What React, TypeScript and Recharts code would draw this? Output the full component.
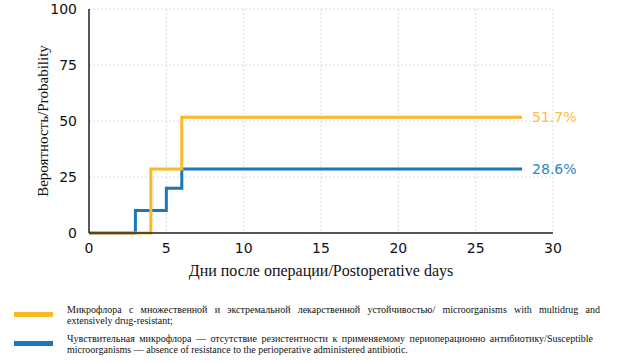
import { CartesianGrid, Line, LineChart, XAxis, YAxis, LabelList } from "recharts"

// days after surgery where the step curves change
const days = [0, 3, 4, 5, 6, 28]
// cumulative probability, %
const resistant = [0, 0, 28.6, 28.6, 51.7, 51.7]
const susceptible = [0, 10, 10, 20, 28.6, 28.6]

const xTicks = [0, 5, 10, 15, 20, 25, 30]
const yTicks = [0, 25, 50, 75, 100]

const legendResistant = [
  "Микрофлора с множественной и экстремальной лекарственной устойчивостью/ microorganisms with multidrug and",
  "extensively drug-resistant;",
]
const legendSusceptible = [
  "Чувствительная микрофлора — отсутствие резистентности к применяемому периоперационно антибиотику/Susceptible",
  "microorganisms — absence of resistance to the perioperative administered antibiotic.",
]

const ORANGE = "#FBB829"
const BLUE = "#1B77BC"

const data = days.map((d, i) => ({ d, r: resistant[i], s: susceptible[i] }))

const tickFont = { fontFamily: "DejaVu Sans", fontSize: 14, fill: "#111" }
const serif = "Liberation Serif, Times New Roman, serif"

function endLabel(color: string) {
  return (p: any) => {
    if (p.index !== data.length - 1) return null
    return (
      <text x={p.x + 10} y={p.y} dy={5} fill={color} fontFamily="DejaVu Sans" fontSize={14}>
        {Number(p.value).toFixed(1)}%
      </text>
    )
  }
}

function LegendRow({ color, lines, width, top }: { color: string; lines: string[]; width: number; top: number }) {
  return (
    <div style={{ position: "absolute", left: 0, top, width: 621 }}>
      <div style={{ position: "absolute", left: 14, top: 8, width: 39, height: 5, background: color }} />
      <div style={{ position: "absolute", left: 67, top: 0, width, fontFamily: serif, fontSize: 10, lineHeight: "11px", color: "#111", whiteSpace: "nowrap" }}>
        <div style={{ textAlign: "justify", textAlignLast: "justify" }}>{lines[0]}</div>
        <div>{lines[1]}</div>
      </div>
    </div>
  )
}

export default function App() {
  return (
    <div style={{ position: "relative", width: 621, height: 362, background: "#fff", overflow: "hidden" }}>
      <style>{"body{margin:0}"}</style>
      <div style={{ position: "absolute", left: 0, top: 0 }}>
        <LineChart width={621} height={310} data={data} margin={{ top: 9, right: 68, left: 0, bottom: 7 }}>
          <CartesianGrid stroke="#d8dde2" strokeDasharray="2 2" />
          <XAxis
            dataKey="d"
            type="number"
            domain={[0, 30]}
            ticks={xTicks}
            height={70}
            axisLine={{ stroke: "#222", strokeWidth: 1.5 }}
            tickLine={false}
            tickMargin={4}
            tick={tickFont}
            label={{ value: "Дни после операции/Postoperative days", position: "center", fontFamily: serif, fontSize: 16, fill: "#111", dy: 2 }}
          />
          <YAxis
            type="number"
            domain={[0, 100]}
            ticks={yTicks}
            width={89}
            axisLine={{ stroke: "#222", strokeWidth: 1.5 }}
            tickLine={false}
            tickMargin={6}
            tick={tickFont}
            label={{ value: "Вероятность/Probability", angle: -90, position: "center", fontFamily: serif, fontSize: 15, fill: "#111", dx: -2 }}
          />
          <Line type="stepAfter" dataKey="s" stroke={BLUE} strokeWidth={3} dot={false} isAnimationActive={false}>
            <LabelList dataKey="s" content={endLabel("#2C87C6")} />
          </Line>
          <Line type="stepAfter" dataKey="r" stroke={ORANGE} strokeWidth={3} dot={false} isAnimationActive={false}>
            <LabelList dataKey="r" content={endLabel("#FCC03E")} />
          </Line>
        </LineChart>
      </div>
      <LegendRow color={ORANGE} lines={legendResistant} width={533} top={304} />
      <LegendRow color={BLUE} lines={legendSusceptible} width={526} top={333} />
    </div>
  )
}
